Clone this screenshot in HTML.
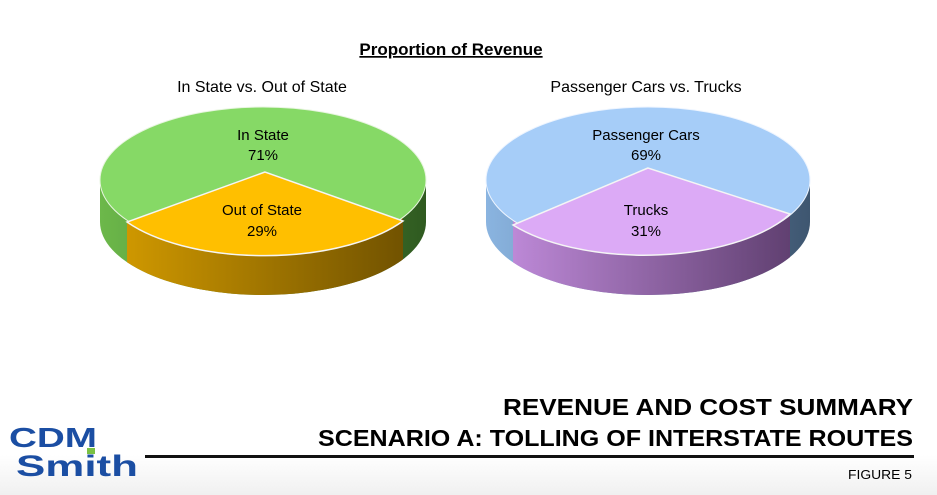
<!DOCTYPE html>
<html><head><style>
html,body{margin:0;padding:0;background:#fff;}
body{width:937px;height:495px;overflow:hidden;position:relative;font-family:"Liberation Sans",sans-serif;}
.foot{position:absolute;left:0;top:455px;width:937px;height:40px;background:linear-gradient(#fff,#f0f0f0);}
</style></head><body>
<div class="foot"></div>
<svg width="937" height="495" style="position:absolute;left:0;top:0" font-family="Liberation Sans, sans-serif">
<defs>
<linearGradient id="gO" x1="0" x2="1"><stop offset="0" stop-color="#d79e00"/><stop offset="1" stop-color="#6a4d00"/></linearGradient>
<linearGradient id="gG" x1="0" x2="1"><stop offset="0" stop-color="#6cb84a"/><stop offset="1" stop-color="#2f5a20"/></linearGradient>
<linearGradient id="gP" x1="0" x2="1"><stop offset="0" stop-color="#c58fe0"/><stop offset="1" stop-color="#5a3b6a"/></linearGradient>
<linearGradient id="gB" x1="0" x2="1"><stop offset="0" stop-color="#8ab4e0"/><stop offset="1" stop-color="#3e5670"/></linearGradient>
<clipPath id="cL"><rect x="127" y="0" width="276" height="400"/></clipPath>
<clipPath id="cR"><rect x="513" y="0" width="277" height="400"/></clipPath>
</defs>
<text x="451" y="55" text-anchor="middle" font-size="17" font-weight="bold" text-decoration="underline">Proportion of Revenue</text>
<text x="262" y="92" text-anchor="middle" font-size="16">In State vs. Out of State</text>
<text x="646" y="92" text-anchor="middle" font-size="16">Passenger Cars vs. Trucks</text>

<!-- left pie -->
<g>
<path d="M100,180 L100,222 A163 73 0 0 0 426,222 L426,180 Z" fill="url(#gG)"/>
<path d="M100,180 L100,222 A163 73 0 0 0 426,222 L426,180 Z" fill="url(#gO)" clip-path="url(#cL)"/>
<ellipse cx="263" cy="180" rx="163" ry="73" fill="#86d966" stroke="#e8f5e0" stroke-width="1"/>
<path d="M265,172 L127,222 A163 73 0 0 0 403,221 Z" fill="#ffbf00" stroke="#f5f5f5" stroke-width="1.5"/>
<text x="263" y="140" text-anchor="middle" font-size="15">In State</text>
<text x="263" y="160" text-anchor="middle" font-size="15">71%</text>
<text x="262" y="215" text-anchor="middle" font-size="15">Out of State</text>
<text x="262" y="236" text-anchor="middle" font-size="15">29%</text>
</g>
<!-- right pie -->
<g>
<path d="M486,180 L486,222 A162 73 0 0 0 810,222 L810,180 Z" fill="url(#gB)"/>
<path d="M486,180 L486,222 A162 73 0 0 0 810,222 L810,180 Z" fill="url(#gP)" clip-path="url(#cR)"/>
<ellipse cx="648" cy="180" rx="162" ry="73" fill="#a6cdf8" stroke="#eef5ff" stroke-width="1"/>
<path d="M648,168 L513,225 A162 73 0 0 0 790,214 Z" fill="#dcaaf6" stroke="#f5f5f5" stroke-width="1.5"/>
<text x="646" y="140" text-anchor="middle" font-size="15">Passenger Cars</text>
<text x="646" y="160" text-anchor="middle" font-size="15">69%</text>
<text x="646" y="215" text-anchor="middle" font-size="15">Trucks</text>
<text x="646" y="236" text-anchor="middle" font-size="15">31%</text>
</g>

<text x="913" y="415" text-anchor="end" font-size="23" font-weight="bold" textLength="410" lengthAdjust="spacingAndGlyphs">REVENUE AND COST SUMMARY</text>
<text x="913" y="446" text-anchor="end" font-size="23" font-weight="bold" textLength="595" lengthAdjust="spacingAndGlyphs">SCENARIO A: TOLLING OF INTERSTATE ROUTES</text>
<rect x="145" y="455" width="769" height="3" fill="#111"/>
<text x="912" y="479" text-anchor="end" font-size="13" textLength="64" lengthAdjust="spacingAndGlyphs">FIGURE 5</text>

<text x="9" y="447" font-size="28" font-weight="bold" fill="#1b4ea3" textLength="88" lengthAdjust="spacingAndGlyphs">CDM</text>
<rect x="87" y="448" width="8" height="6" fill="#7ac143"/>
<text x="16" y="476" font-size="30" font-weight="bold" fill="#1b4ea3" textLength="122" lengthAdjust="spacingAndGlyphs">Smith</text>
</svg>
</body></html>
